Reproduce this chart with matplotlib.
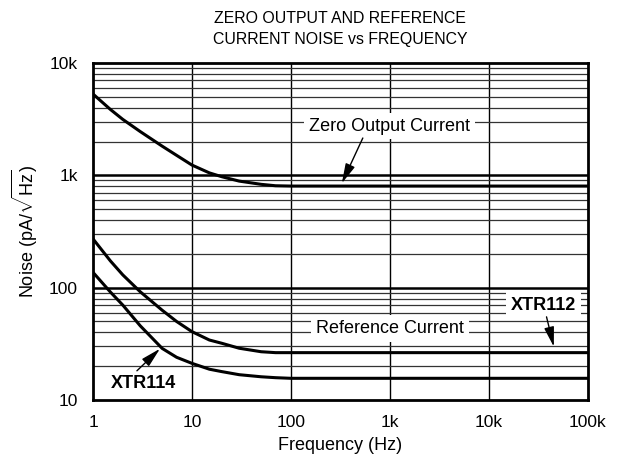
import matplotlib
matplotlib.use("Agg")
import matplotlib.pyplot as plt
from matplotlib.ticker import FixedLocator, NullFormatter

plt.rcParams['font.family'] = ['Liberation Sans', 'DejaVu Sans']
plt.rcParams['mathtext.fontset'] = 'custom'
plt.rcParams['mathtext.rm'] = 'Liberation Sans'

# values (Hz, pA/sqrt(Hz))
freq = [1, 1.5, 2, 3, 5, 7, 10, 15, 20, 30, 50, 70, 100, 1e3, 1e4, 1e5]
zero_output = [5300, 3860, 3150, 2455, 1820, 1507, 1235, 1052, 973, 889, 832, 808, 803, 803, 803, 803]
ref_xtr112 = [272, 173, 130, 92, 63, 50, 40.6, 34.2, 32, 28.9, 26.9, 26.4, 26.4, 26.4, 26.4, 26.4]
ref_xtr114 = [137, 91.4, 70, 45.8, 28.8, 24, 21.2, 18.8, 17.9, 16.8, 16.1, 15.8, 15.6, 15.6, 15.6, 15.6]

x_ticks = [1, 10, 100, 1e3, 1e4, 1e5]
x_labels = ['1', '10', '100', '1k', '10k', '100k']
y_ticks = [10, 100, 1e3, 1e4]
y_labels = ['10', '100', '1k', '10k']

fig = plt.figure(figsize=(6.2, 4.68), dpi=100)
ax = fig.add_axes([0.15, 0.1453, 0.798, 0.72])
ax.set_xscale('log')
ax.set_yscale('log')
ax.set_xlim(1, 1e5)
ax.set_ylim(10, 1e4)

# grid: decades vertical, 1-2-...-9 horizontal
for x in x_ticks[1:-1]:
    ax.axvline(x, color='black', lw=1.0, zorder=1)
for dec in [10, 100, 1000]:
    for m in range(2, 10):
        ax.axhline(dec * m, color='0.2', lw=0.9, zorder=1)
for y in y_ticks[1:-1]:
    ax.axhline(y, color='black', lw=1.8, zorder=1)

ax.plot(freq, zero_output, color='black', lw=2.2, zorder=3)
ax.plot(freq, ref_xtr112, color='black', lw=2.2, zorder=3)
ax.plot(freq, ref_xtr114, color='black', lw=2.2, zorder=3)

ax.xaxis.set_major_locator(FixedLocator(x_ticks))
ax.set_xticklabels(x_labels)
ax.yaxis.set_major_locator(FixedLocator(y_ticks))
ax.set_yticklabels(y_labels)
ax.xaxis.set_minor_formatter(NullFormatter())
ax.yaxis.set_minor_formatter(NullFormatter())
ax.tick_params(which='both', length=0, labelsize=12.5)
ax.tick_params(axis='x', pad=11)
ax.tick_params(axis='y', pad=11)
for s in ax.spines.values():
    s.set_linewidth(2)
    s.set_zorder(4)

box = dict(facecolor='white', edgecolor='none', pad=3.5)
ax.text(1000, 2750, 'Zero Output Current', ha='center', va='center',
        fontsize=13, bbox=box, zorder=2)
ax.text(1000, 43, 'Reference Current', ha='center', va='center',
        fontsize=13, bbox=box, zorder=2)
ax.text(35700, 69.5, 'XTR112', ha='center', va='center', fontsize=13,
        fontweight='bold', bbox=box, zorder=2)
ax.text(3.2, 14, 'XTR114', ha='center', va='center', fontsize=13,
        fontweight='bold', bbox=box, zorder=2)

arrow = dict(arrowstyle='-|>,head_length=1.0,head_width=0.25', color='black',
             lw=1, mutation_scale=12, shrinkA=0, shrinkB=0)
ax.annotate('', xy=(327, 850), xytext=(533, 2150), arrowprops=arrow, zorder=5)
ax.annotate('', xy=(45400, 29.8), xytext=(38300, 55), arrowprops=arrow, zorder=5)
ax.annotate('', xy=(4.75, 28.6), xytext=(2.78, 18.2), arrowprops=arrow, zorder=5)

ax.set_xlabel('Frequency (Hz)', fontsize=13, labelpad=5)
ax.set_ylabel(r'Noise (pA/$\sqrt{\mathrm{Hz}}$)', fontsize=13, labelpad=6)
ax.set_title('ZERO OUTPUT AND REFERENCE\nCURRENT NOISE vs FREQUENCY',
             fontsize=11.4, pad=14, linespacing=1.45)

fig.savefig('out.png', dpi=100)
